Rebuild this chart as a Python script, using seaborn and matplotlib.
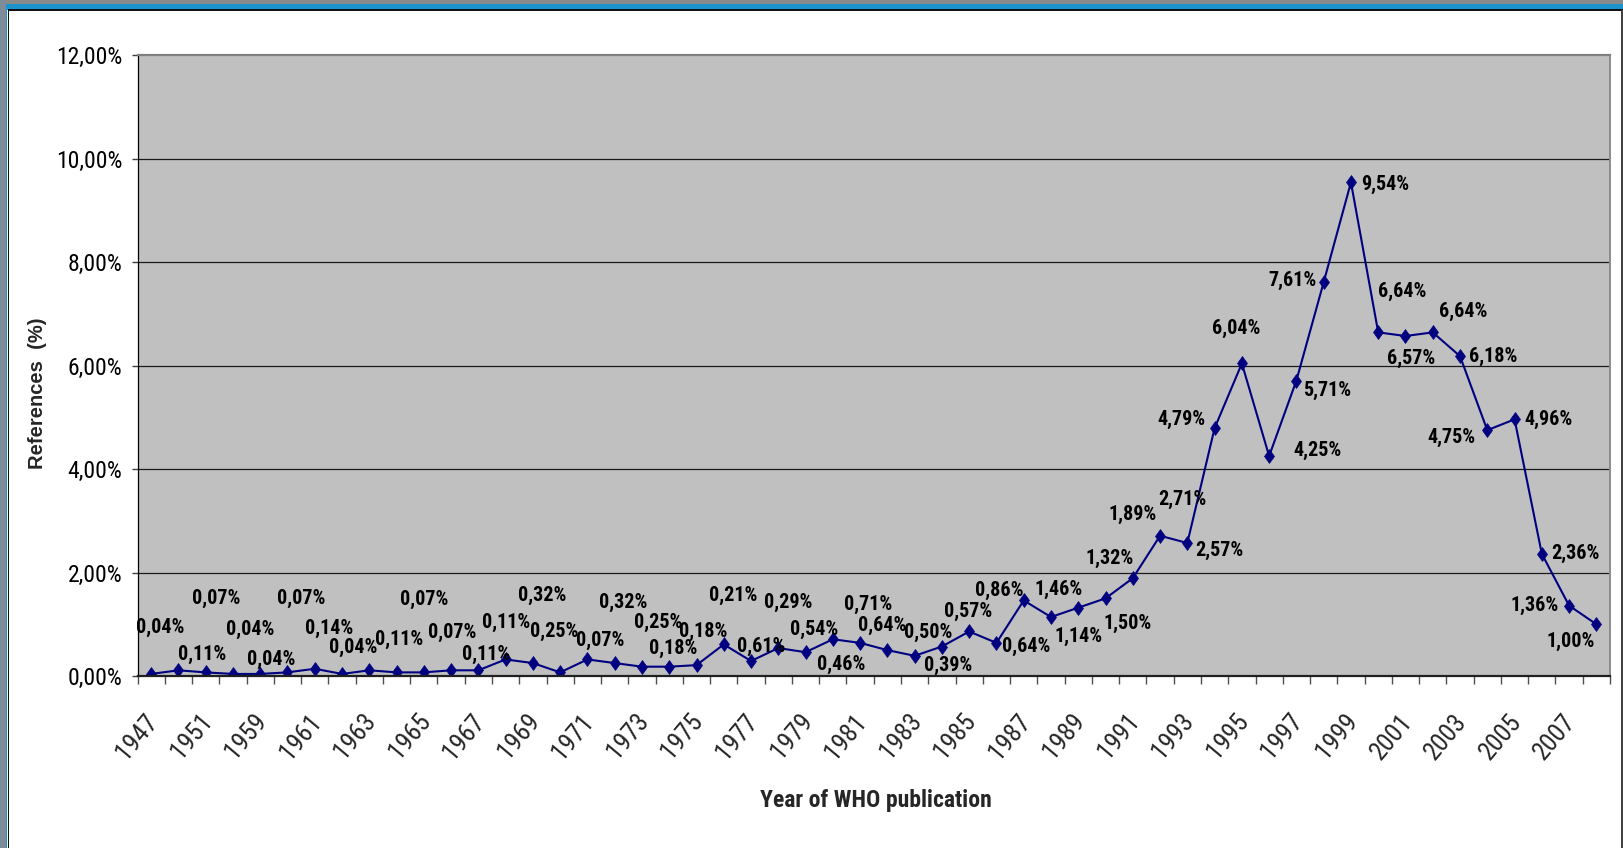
import numpy as np
import pandas as pd
import matplotlib
matplotlib.use("Agg")
import matplotlib.pyplot as plt
import matplotlib.transforms as mtransforms
import matplotlib.font_manager as fm
from matplotlib.path import Path
from matplotlib.patches import Rectangle
from matplotlib.ticker import FixedLocator, FuncFormatter
import seaborn as sns

# ---------------- data ----------------
years = ["1947", "1949", "1951", "1955", "1959", "1960", "1961", "1962", "1963", "1964",
         "1965", "1966", "1967", "1968", "1969", "1970", "1971", "1972", "1973", "1974",
         "1975", "1976", "1977", "1978", "1979", "1980", "1981", "1982", "1983", "1984",
         "1985", "1986", "1987", "1988", "1989", "1990", "1991", "1992", "1993", "1994",
         "1995", "1996", "1997", "1998", "1999", "2000", "2001", "2002", "2003", "2004",
         "2005", "2006", "2007", "2008"]
references_pct = [0.04, 0.11, 0.07, 0.04, 0.04, 0.07, 0.14, 0.04, 0.11, 0.07,
                  0.07, 0.11, 0.11, 0.32, 0.25, 0.07, 0.32, 0.25, 0.18, 0.18,
                  0.21, 0.61, 0.29, 0.54, 0.46, 0.71, 0.64, 0.50, 0.39, 0.57,
                  0.86, 0.64, 1.46, 1.14, 1.32, 1.50, 1.89, 2.71, 2.57, 4.79,
                  6.04, 4.25, 5.71, 7.61, 9.54, 6.64, 6.57, 6.64, 6.18, 4.75,
                  4.96, 2.36, 1.36, 1.00]
y_ticks = [0, 2, 4, 6, 8, 10, 12]

# label offsets (pixels, image orientation: +dx right, +dy down) -- styling only
label_offsets_px = [(9, -47), (24, -16), (11, -74), (17, -45), (11, -15), (14, -74),
                    (14, -40), (11, -27), (30, -31), (28, -73), (28, -40), (35, -16),
                    (28, -48), (37, -64), (21, -32), (40, -32), (36, -57), (43, -41),
                    (31, -18), (34, -35), (37, -70), (37, 2), (37, -59), (36, -19),
                    (36, 12), (35, -35), (22, -17), (41, -18), (33, 10), (26, -35),
                    (30, -41), (30, 4), (35, -11), (28, 19), (31, -49), (22, 25),
                    (0, -64), (22, -36), (32, 7), (-33, -9), (-6, -35), (48, -6),
                    (31, 10), (-31, -2), (34, 2), (24, -41), (6, 22), (30, -21),
                    (33, 0), (-36, 7), (34, 0), (34, 0), (-34, 0), (-26, 17)]

df = pd.DataFrame({"pos": np.arange(len(years)), "year": years, "pct": references_pct})

# ---------------- fonts ----------------
sns.set_style("white")
plt.rcParams["font.family"] = ["Liberation Sans", "DejaVu Sans"]


def _w(f):
    return f.weight if isinstance(f.weight, (int, float)) else (700 if "bold" in str(f.weight) else 400)


def find_narrow(weight):
    prefs = ["Liberation Sans Narrow", "Arial Narrow", "Roboto Condensed",
             "Noto Sans Condensed", "Open Sans Condensed", "Lato Condensed"]
    ents = [f for f in fm.fontManager.ttflist if f.style == "normal"]
    for name in prefs:
        c = [f for f in ents if f.name == name]
        if c:
            return min(c, key=lambda f: abs(_w(f) - weight))
    c = [f for f in ents if ("Narrow" in f.name or "Condensed" in f.name
                            or str(f.stretch) in ("condensed", "semi-condensed", "extra-condensed", "ultra-condensed"))
         and "DejaVu" not in f.name]
    if c:
        return min(c, key=lambda f: abs(_w(f) - weight))
    return None


nar_reg = find_narrow(400)
nar_bold = find_narrow(700)
if nar_reg is not None and nar_bold is not None:
    def FP_reg(size):
        return fm.FontProperties(fname=nar_reg.fname, size=size)

    def FP_bold(size):
        return fm.FontProperties(fname=nar_bold.fname, size=size)
    S_TICK, S_XT, S_DATA, S_XLAB = 17, 18.5, 14.5, 17
else:
    def FP_reg(size):
        return fm.FontProperties(family=["Liberation Sans", "DejaVu Sans"], size=size)

    def FP_bold(size):
        return fm.FontProperties(family=["Liberation Sans", "DejaVu Sans"], weight="bold", size=size)
    S_TICK, S_XT, S_DATA, S_XLAB = 14, 15, 12.5, 14.5

W, H = 1623, 848
fig = plt.figure(figsize=(W / 100, H / 100), dpi=100)
fig.patch.set_facecolor("white")

L, R, T, B = 137.5, 1610, 55, 676
ax = fig.add_axes([L / W, 1 - B / H, (R - L) / W, (B - T) / H])
ax.set_facecolor("#c0c0c0")

diamond = Path([(0, 1), (0.72, 0), (0, -1), (-0.72, 0), (0, 1)],
               [Path.MOVETO, Path.LINETO, Path.LINETO, Path.LINETO, Path.CLOSEPOLY])

sns.lineplot(data=df, x="pos", y="pct", ax=ax, color="#000080", linewidth=1.5,
             marker=diamond, markersize=10, markerfacecolor="#000080",
             markeredgecolor="#000080", markeredgewidth=0.5, zorder=4)

ax.set_xlim(-0.5, len(years) - 0.5)
ax.set_ylim(0, 12)

# grid
for yv in y_ticks[1:-1]:
    ax.axhline(yv, color="#1a1a1a", linewidth=0.9, zorder=1)

# spines
ax.spines["left"].set_color("black"); ax.spines["left"].set_linewidth(0.9)
ax.spines["bottom"].set_color("#202020"); ax.spines["bottom"].set_linewidth(1.6)
ax.spines["top"].set_color("#808080"); ax.spines["top"].set_linewidth(1.6)
ax.spines["right"].set_color("#8c8c8c"); ax.spines["right"].set_linewidth(1.4)
for s in ax.spines.values():
    s.set_visible(True)
    s.set_zorder(5)

# y axis
ax.yaxis.set_major_locator(FixedLocator(y_ticks))
ax.yaxis.set_major_formatter(FuncFormatter(lambda v, p: f"{v:.2f}%".replace(".", ",")))
ax.tick_params(axis="y", which="major", length=4, width=1, color="#404040",
               direction="out", pad=7, labelcolor="black", left=True)
for lab in ax.get_yticklabels():
    lab.set_fontproperties(FP_reg(S_TICK))

# x axis: labels every other category, tick marks between categories
ax.xaxis.set_major_locator(FixedLocator(df["pos"].values[::2]))
ax.set_xticklabels(df["year"].values[::2])
ax.xaxis.set_minor_locator(FixedLocator(np.arange(len(years) + 1) - 0.5))
ax.tick_params(axis="x", which="major", length=0, pad=24, bottom=True)
ax.tick_params(axis="x", which="minor", length=5.5, width=1, color="#505050",
               direction="out", bottom=True)
shift = mtransforms.ScaledTranslation(-7 / 100, 0, fig.dpi_scale_trans)
for lab in ax.get_xticklabels():
    lab.set_fontproperties(FP_reg(S_XT))
    lab.set_rotation(50)
    lab.set_ha("right")
    lab.set_va("top")
    lab.set_rotation_mode("anchor")
    lab.set_transform(lab.get_transform() + shift)

# axis labels
ax.set_xlabel("Year of WHO publication", fontproperties=FP_bold(S_XLAB))
ax.xaxis.set_label_coords(0.5015, -0.182)
ax.set_ylabel("References  (%)", fontsize=14.5, fontweight="bold",
              family=["Liberation Sans", "DejaVu Sans"])
ax.yaxis.set_label_coords(-0.0615, 0.455)

# data labels
for (i, v), (dx, dy) in zip(enumerate(references_pct), label_offsets_px):
    ax.annotate(f"{v:.2f}%".replace(".", ","), (i, v), xytext=(dx * 0.72, -dy * 0.72),
                textcoords="offset points", ha="center", va="center",
                fontproperties=FP_bold(S_DATA), color="black", zorder=6)


# window frame
def frame_rect(x0, y0, x1, y1, color):
    fig.add_artist(Rectangle((x0 / W, 1 - y1 / H), (x1 - x0) / W, (y1 - y0) / H,
                             transform=fig.transFigure, facecolor=color,
                             edgecolor="none", zorder=10))


frame_rect(0, 0, W, 3.5, "#8a8a8a")
frame_rect(0, 0, 6, H, "#7d8c99")
frame_rect(6, 3.5, W, 9.5, "#1b93cd")
frame_rect(6, 3.5, 7.5, H, "#1b93cd")
frame_rect(7.5, 9.5, W, 11, "#111111")
frame_rect(7.5, 9.5, 9, H, "#111111")
frame_rect(1620.5, 9.5, W, H, "#404040")

fig.savefig("out.png", dpi=100)
